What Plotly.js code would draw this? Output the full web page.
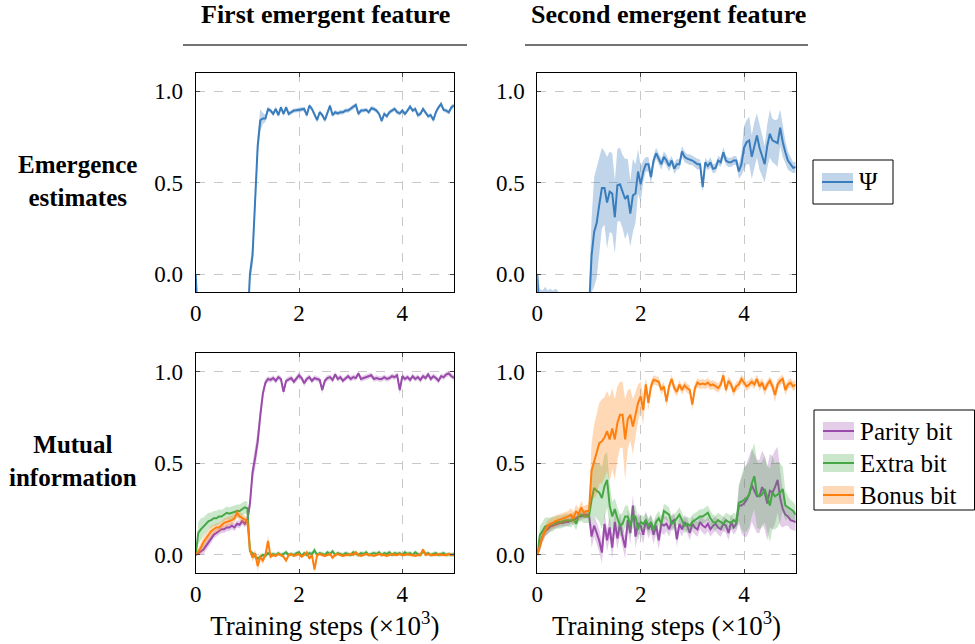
<!DOCTYPE html>
<html>
<head>
<meta charset="utf-8">
<script src="https://cdn.plot.ly/plotly-3.0.1.min.js"></script>
<style>html,body{margin:0;padding:0;background:#fff;}#chart{width:975px;height:644px;}
#chart svg text{font-family:'Liberation Serif',serif !important;}</style>
</head>
<body>
<div id="chart"></div>
<script>
// Training steps (x10^3)
const steps = [
 0,0.05,0.1,0.15,0.2,0.25,0.3,0.35,0.4,0.45,
 0.5,0.55,0.6,0.65,0.7,0.75,0.8,0.85,0.9,0.95,
 1,1.05,1.1,1.15,1.2,1.25,1.3,1.35,1.4,1.45,
 1.5,1.55,1.6,1.65,1.7,1.75,1.8,1.85,1.9,1.95,
 2,2.05,2.1,2.15,2.2,2.25,2.3,2.35,2.4,2.45,
 2.5,2.55,2.6,2.65,2.7,2.75,2.8,2.85,2.9,2.95,
 3,3.05,3.1,3.15,3.2,3.25,3.3,3.35,3.4,3.45,
 3.5,3.55,3.6,3.65,3.7,3.75,3.8,3.85,3.9,3.95,
 4,4.05,4.1,4.15,4.2,4.25,4.3,4.35,4.4,4.45,
 4.5,4.55,4.6,4.65,4.7,4.75,4.8,4.85,4.9,4.95,
 5];

const colTitles = ['First emergent feature', 'Second emergent feature'];
const rowTitles = ['Emergence<br>estimates', 'Mutual<br>information'];
const psiName = 'Ψ';
const miNames = ['Parity bit', 'Extra bit', 'Bonus bit'];
const xTicks = [0, 2, 4];
const xTickText = ['0', '2', '4'];
const yTicks = [0, 0.5, 1];
const yTickText = ['0.0', '0.5', '1.0'];
const xTitle = 'Training steps (×10<sup>3</sup>)';

// Emergence estimate Psi, first feature
const psi1 = [
 0,-0.6,-0.6,-0.6,-0.6,-0.6,-0.6,-0.6,-0.6,-0.6,
 -0.6,-0.6,-0.6,-0.6,-0.6,-0.6,-0.6,-0.6,-0.6,-0.6,
 -0.3,0.0,0.1,0.38,0.7,0.84,0.85,0.85,0.90,0.893,
 0.875,0.902,0.868,0.911,0.875,0.911,0.875,0.884,0.893,0.895,
 0.897,0.90,0.902,0.868,0.920,0.902,0.875,0.841,0.884,0.868,
 0.841,0.884,0.920,0.868,0.884,0.878,0.884,0.884,0.893,0.893,
 0.902,0.911,0.924,0.875,0.893,0.893,0.897,0.884,0.906,0.902,
 0.893,0.875,0.837,0.875,0.862,0.884,0.893,0.902,0.884,0.878,
 0.893,0.875,0.893,0.915,0.893,0.902,0.868,0.875,0.902,0.884,
 0.862,0.868,0.841,0.884,0.911,0.929,0.897,0.893,0.884,0.911,
 0.920];
const psi1Err = [
 0.02,0.3,0.3,0.3,0.3,0.3,0.3,0.3,0.3,0.3,
 0.3,0.3,0.3,0.3,0.3,0.3,0.3,0.3,0.3,0.3,
 0.1,0.05,0.06,0.06,0.06,0.06,0.03,0.02,0.015,0.012,
 0.012,0.015,0.012,0.012,0.015,0.012,0.012,0.012,0.012,0.012,
 0.012,0.012,0.012,0.015,0.012,0.012,0.012,0.015,0.012,0.012,
 0.015,0.012,0.012,0.012,0.012,0.012,0.012,0.012,0.012,0.012,
 0.012,0.012,0.012,0.015,0.012,0.012,0.012,0.012,0.012,0.012,
 0.012,0.012,0.015,0.012,0.012,0.012,0.012,0.012,0.012,0.012,
 0.012,0.012,0.012,0.012,0.012,0.012,0.015,0.012,0.012,0.012,
 0.012,0.012,0.015,0.012,0.012,0.015,0.012,0.012,0.012,0.015,
 0.012];

// Emergence estimate Psi, second feature
const psi2 = [
 0,-0.6,-0.6,-0.6,-0.6,-0.6,-0.6,-0.6,-0.6,-0.6,
 -0.6,-0.6,-0.6,-0.6,-0.6,-0.6,-0.6,-0.6,-0.6,-0.6,
 -0.2,0.1,0.23,0.28,0.38,0.47,0.47,0.39,0.45,0.44,
 0.31,0.485,0.49,0.45,0.41,0.43,0.33,0.43,0.44,0.56,
 0.49,0.56,0.60,0.60,0.53,0.62,0.66,0.63,0.60,0.64,
 0.62,0.59,0.62,0.575,0.60,0.60,0.67,0.64,0.63,0.625,
 0.62,0.61,0.60,0.60,0.475,0.61,0.59,0.61,0.575,0.58,
 0.62,0.61,0.665,0.62,0.61,0.61,0.62,0.62,0.56,0.60,
 0.69,0.72,0.73,0.64,0.70,0.757,0.69,0.65,0.60,0.70,
 0.766,0.73,0.72,0.715,0.80,0.72,0.665,0.62,0.60,0.58,
 0.585];
const psi2Err = [
 0.02,0.52,0.51,0.53,0.51,0.52,0.51,0.52,0.51,0.3,
 0.3,0.3,0.3,0.3,0.3,0.3,0.3,0.3,0.3,0.3,
 0.1,0.2,0.3,0.3,0.25,0.22,0.2,0.25,0.22,0.22,
 0.2,0.2,0.2,0.2,0.22,0.2,0.18,0.2,0.16,0.12,
 0.1,0.06,0.04,0.04,0.04,0.03,0.03,0.03,0.03,0.03,
 0.03,0.03,0.025,0.03,0.03,0.025,0.03,0.03,0.025,0.03,
 0.025,0.025,0.03,0.025,0.03,0.025,0.025,0.03,0.025,0.025,
 0.025,0.025,0.03,0.025,0.025,0.025,0.025,0.025,0.04,0.06,
 0.12,0.12,0.13,0.12,0.13,0.12,0.12,0.11,0.1,0.12,
 0.13,0.12,0.12,0.13,0.1,0.08,0.06,0.05,0.04,0.03,
 0.03];

// Mutual information, first feature
const parity1 = [
 0,0.01,0.02,0.03,0.05,0.07,0.09,0.11,0.12,0.13,
 0.14,0.14,0.15,0.15,0.16,0.15,0.17,0.165,0.185,0.17,
 0.19,0.28,0.45,0.53,0.62,0.76,0.88,0.94,0.96,0.955,
 0.965,0.95,0.97,0.96,0.89,0.95,0.96,0.965,0.945,0.96,
 0.98,0.965,0.937,0.96,0.97,0.95,0.965,0.96,0.955,0.90,
 0.95,0.965,0.97,0.955,0.985,0.96,0.97,0.95,0.965,0.975,
 0.96,0.97,0.965,0.99,0.96,0.965,0.97,0.975,0.98,0.96,
 0.965,0.96,0.96,0.97,0.96,0.965,0.975,0.97,0.98,0.90,
 0.975,0.96,0.97,0.955,0.975,0.96,0.97,0.955,0.975,0.965,
 0.985,0.96,0.975,0.965,0.95,0.975,0.97,0.985,0.99,0.975,
 0.965];
const parity1Err = [
 0,0.01,0.02,0.025,0.025,0.025,0.025,0.02,0.02,0.02,
 0.02,0.02,0.02,0.02,0.02,0.02,0.02,0.02,0.02,0.02,
 0.02,0.04,0.05,0.06,0.06,0.05,0.03,0.02,0.015,0.015,
 0.015,0.015,0.015,0.015,0.02,0.015,0.015,0.015,0.015,0.015,
 0.015,0.015,0.02,0.015,0.015,0.015,0.015,0.015,0.015,0.02,
 0.015,0.015,0.015,0.015,0.015,0.015,0.015,0.015,0.015,0.015,
 0.015,0.015,0.015,0.015,0.015,0.015,0.015,0.015,0.015,0.015,
 0.015,0.015,0.015,0.015,0.015,0.015,0.015,0.015,0.015,0.025,
 0.015,0.015,0.015,0.015,0.015,0.015,0.015,0.015,0.015,0.015,
 0.015,0.015,0.015,0.015,0.015,0.015,0.015,0.015,0.015,0.015,
 0.015];
const extra1 = [
 0,0.12,0.14,0.155,0.17,0.185,0.19,0.20,0.20,0.21,
 0.21,0.22,0.23,0.225,0.23,0.235,0.24,0.24,0.25,0.26,
 0.255,0.02,0.01,-0.01,-0.02,-0.01,0.0,-0.005,0.01,0.0,
 0.005,0.0,0.01,0.0,0.005,0.015,0.0,0.005,0.0,0.01,
 0.015,-0.005,0.01,0.0,0.01,0.005,0.025,0.0,0.01,0.005,
 0.0,0.015,0.005,0.02,0.0,0.01,0.005,0.0,0.01,0.005,
 0.0,0.015,0.005,0.0,0.01,0.005,0.015,0.0,0.005,0.01,
 0.005,0.015,0.0,0.01,0.005,0.015,0.0,0.01,0.005,0.01,
 0.0,0.015,0.005,0.01,0.0,0.015,0.005,0.0,0.02,0.005,
 0.01,0.0,0.005,0.01,0.0,0.005,0.01,0.0,0.005,0.0,
 0.005];
const extra1Err = [
 0,0.06,0.06,0.05,0.05,0.045,0.04,0.04,0.04,0.04,
 0.035,0.035,0.035,0.035,0.035,0.035,0.035,0.035,0.035,0.035,
 0.035,0.02,0.012,0.012,0.012,0.012,0.012,0.012,0.012,0.012,
 0.012,0.012,0.012,0.012,0.012,0.012,0.012,0.012,0.012,0.012,
 0.012,0.012,0.012,0.012,0.012,0.012,0.02,0.012,0.012,0.012,
 0.012,0.012,0.012,0.012,0.012,0.012,0.012,0.012,0.012,0.012,
 0.012,0.012,0.012,0.012,0.012,0.012,0.012,0.012,0.012,0.012,
 0.012,0.012,0.012,0.012,0.012,0.012,0.012,0.012,0.012,0.012,
 0.012,0.012,0.012,0.012,0.012,0.012,0.012,0.012,0.012,0.012,
 0.012,0.012,0.012,0.012,0.012,0.012,0.012,0.012,0.012,0.012,
 0.012];
const bonus1 = [
 0,0.02,0.04,0.07,0.09,0.11,0.13,0.14,0.15,0.15,
 0.16,0.175,0.18,0.185,0.19,0.20,0.23,0.21,0.20,0.19,
 0.185,0.03,-0.015,0.01,-0.06,-0.01,-0.03,0.0,0.076,-0.01,
 0.0,-0.005,0.005,0.0,-0.01,-0.03,0.0,0.005,-0.005,0.0,
 0.005,-0.01,0.0,0.015,-0.02,0.0,-0.08,0.0,0.005,0.0,
 -0.005,0.0,0.005,-0.015,0.0,0.005,0.0,-0.005,0.0,0.0,
 0.005,0.0,0.015,0.0,-0.005,0.0,0.005,0.0,0.0,-0.005,
 0.0,0.005,0.0,0.0,-0.005,0.0,0.005,0.0,0.0,0.005,
 0.0,0.0,0.005,0.0,0.0,-0.005,0.0,0.0,0.03,0.0,
 0.005,0.0,0.0,0.0,0.005,0.0,0.0,0.0,0.005,0.0,
 0.0];
const bonus1Err = [
 0,0.02,0.03,0.03,0.03,0.03,0.03,0.025,0.025,0.025,
 0.025,0.025,0.025,0.025,0.025,0.025,0.025,0.025,0.025,0.025,
 0.025,0.02,0.02,0.02,0.03,0.02,0.02,0.015,0.03,0.01,
 0.008,0.008,0.008,0.008,0.008,0.01,0.008,0.008,0.008,0.008,
 0.008,0.008,0.008,0.008,0.01,0.008,0.015,0.008,0.008,0.008,
 0.008,0.008,0.008,0.01,0.008,0.008,0.008,0.008,0.008,0.008,
 0.008,0.008,0.008,0.008,0.008,0.008,0.008,0.008,0.008,0.008,
 0.008,0.008,0.008,0.008,0.008,0.008,0.008,0.008,0.008,0.008,
 0.008,0.008,0.008,0.008,0.008,0.008,0.008,0.008,0.01,0.008,
 0.008,0.008,0.008,0.008,0.008,0.008,0.008,0.008,0.008,0.008,
 0.008];

// Mutual information, second feature
const parity2 = [
 0,0.05,0.10,0.13,0.14,0.155,0.16,0.165,0.17,0.175,
 0.175,0.18,0.18,0.19,0.19,0.20,0.21,0.21,0.22,0.22,
 0.22,0.10,0.16,0.12,0.076,0.013,0.17,0.08,0.15,0.04,
 0.18,0.09,0.17,0.10,0.04,0.19,0.12,0.27,0.10,0.17,
 0.16,0.11,0.19,0.14,0.17,0.11,0.16,0.08,0.17,0.16,
 0.17,0.14,0.18,0.19,0.085,0.17,0.14,0.18,0.16,0.12,
 0.17,0.15,0.14,0.18,0.16,0.15,0.17,0.14,0.16,0.17,
 0.15,0.14,0.17,0.16,0.12,0.18,0.15,0.17,0.27,0.27,
 0.28,0.30,0.33,0.38,0.35,0.32,0.32,0.37,0.34,0.28,
 0.35,0.34,0.37,0.41,0.31,0.25,0.22,0.21,0.19,0.185,
 0.18];
const parity2Err = [
 0,0.03,0.03,0.03,0.025,0.025,0.02,0.02,0.02,0.02,
 0.02,0.02,0.02,0.02,0.02,0.02,0.02,0.02,0.02,0.02,
 0.02,0.06,0.06,0.06,0.06,0.06,0.06,0.06,0.06,0.06,
 0.06,0.06,0.06,0.06,0.06,0.06,0.06,0.06,0.06,0.06,
 0.05,0.05,0.05,0.05,0.05,0.05,0.05,0.05,0.05,0.05,
 0.04,0.04,0.04,0.04,0.04,0.04,0.04,0.04,0.04,0.04,
 0.04,0.04,0.04,0.04,0.04,0.04,0.04,0.04,0.04,0.04,
 0.04,0.04,0.04,0.04,0.04,0.04,0.04,0.04,0.1,0.15,
 0.18,0.2,0.2,0.2,0.2,0.2,0.2,0.2,0.2,0.2,
 0.2,0.2,0.2,0.18,0.15,0.1,0.06,0.05,0.05,0.05,
 0.05];
const extra2 = [
 0,0.11,0.13,0.155,0.16,0.165,0.17,0.175,0.18,0.18,
 0.185,0.19,0.19,0.185,0.20,0.17,0.21,0.22,0.21,0.21,
 0.21,0.30,0.366,0.35,0.34,0.31,0.375,0.41,0.27,0.21,
 0.25,0.20,0.16,0.17,0.21,0.21,0.16,0.21,0.21,0.14,
 0.18,0.17,0.19,0.16,0.18,0.14,0.18,0.20,0.17,0.24,
 0.23,0.22,0.17,0.18,0.20,0.22,0.19,0.16,0.17,0.16,
 0.18,0.19,0.20,0.21,0.21,0.22,0.23,0.20,0.18,0.175,
 0.19,0.18,0.17,0.19,0.18,0.175,0.19,0.18,0.285,0.29,
 0.30,0.31,0.33,0.39,0.43,0.33,0.32,0.33,0.36,0.31,
 0.27,0.34,0.32,0.33,0.34,0.36,0.27,0.26,0.25,0.24,
 0.22];
const extra2Err = [
 0,0.05,0.05,0.05,0.045,0.04,0.04,0.035,0.035,0.035,
 0.035,0.035,0.035,0.035,0.035,0.035,0.035,0.035,0.035,0.035,
 0.035,0.14,0.15,0.15,0.16,0.17,0.17,0.15,0.12,0.08,
 0.06,0.06,0.06,0.06,0.06,0.06,0.06,0.06,0.06,0.06,
 0.04,0.04,0.04,0.04,0.04,0.04,0.04,0.04,0.04,0.04,
 0.04,0.04,0.04,0.04,0.04,0.04,0.04,0.04,0.04,0.04,
 0.04,0.04,0.04,0.04,0.04,0.04,0.04,0.04,0.04,0.04,
 0.04,0.04,0.04,0.04,0.04,0.04,0.04,0.04,0.1,0.15,
 0.18,0.18,0.18,0.18,0.18,0.18,0.18,0.18,0.18,0.18,
 0.2,0.2,0.18,0.18,0.16,0.12,0.08,0.06,0.05,0.05,
 0.05];
const bonus2 = [
 0,0.05,0.10,0.13,0.16,0.17,0.175,0.185,0.19,0.195,
 0.20,0.205,0.21,0.22,0.20,0.24,0.22,0.26,0.23,0.24,
 0.24,0.46,0.51,0.55,0.61,0.62,0.64,0.675,0.63,0.69,
 0.63,0.72,0.765,0.765,0.63,0.74,0.765,0.70,0.765,0.83,
 0.865,0.79,0.93,0.83,0.92,0.955,0.95,0.945,0.90,0.92,
 0.837,0.92,0.96,0.91,0.89,0.93,0.90,0.925,0.91,0.90,
 0.82,0.91,0.94,0.93,0.935,0.93,0.94,0.925,0.93,0.92,
 0.91,0.93,0.98,0.90,0.95,0.93,0.89,0.92,0.93,0.96,
 0.94,0.92,0.93,0.945,0.93,0.96,0.92,0.94,0.90,0.93,
 0.95,0.92,0.873,0.93,0.95,0.96,0.90,0.93,0.94,0.92,
 0.93];
const bonus2Err = [
 0,0.03,0.03,0.03,0.03,0.03,0.03,0.03,0.03,0.03,
 0.03,0.03,0.03,0.035,0.035,0.035,0.035,0.035,0.035,0.035,
 0.03,0.15,0.2,0.22,0.22,0.23,0.22,0.22,0.23,0.22,
 0.22,0.2,0.18,0.18,0.22,0.16,0.14,0.15,0.12,0.1,
 0.08,0.08,0.04,0.04,0.03,0.025,0.025,0.025,0.025,0.025,
 0.03,0.025,0.025,0.025,0.025,0.025,0.025,0.025,0.025,0.025,
 0.03,0.025,0.025,0.025,0.025,0.025,0.025,0.025,0.025,0.025,
 0.025,0.025,0.025,0.025,0.025,0.025,0.025,0.025,0.025,0.025,
 0.025,0.025,0.025,0.025,0.025,0.025,0.025,0.025,0.03,0.025,
 0.025,0.03,0.04,0.03,0.025,0.025,0.03,0.025,0.025,0.025,
 0.025];

const FONT = 'Liberation Serif';
const C = {
  psi:   {line: '#3a7dbd', fill: 'rgba(58,125,189,0.32)'},
  par:   {line: '#9a4aab', fill: 'rgba(154,74,171,0.28)'},
  ext:   {line: '#45a845', fill: 'rgba(69,168,69,0.28)'},
  bon:   {line: '#ff7f0e', fill: 'rgba(255,127,14,0.30)'}
};

function bandTrace(y, e, col, xa, ya) {
  const up = y.map((v, i) => v + e[i]);
  const lo = y.map((v, i) => v - e[i]);
  return {
    x: steps.concat(steps.slice().reverse()),
    y: up.concat(lo.slice().reverse()),
    xaxis: xa, yaxis: ya, type: 'scatter', mode: 'lines',
    fill: 'toself', fillcolor: col.fill, line: {width: 0, color: col.fill},
    hoverinfo: 'skip', showlegend: false
  };
}
function lineTrace(y, col, xa, ya, name) {
  return {x: steps, y: y, xaxis: xa, yaxis: ya, type: 'scatter', mode: 'lines',
    name: name, line: {color: col.line, width: 2}, showlegend: false};
}

const data = [
  bandTrace(psi1, psi1Err, C.psi, 'x', 'y'), lineTrace(psi1, C.psi, 'x', 'y', psiName),
  bandTrace(psi2, psi2Err, C.psi, 'x2', 'y2'), lineTrace(psi2, C.psi, 'x2', 'y2', psiName),
  bandTrace(parity1, parity1Err, C.par, 'x3', 'y3'), lineTrace(parity1, C.par, 'x3', 'y3', miNames[0]),
  bandTrace(extra1, extra1Err, C.ext, 'x3', 'y3'), lineTrace(extra1, C.ext, 'x3', 'y3', miNames[1]),
  bandTrace(bonus1, bonus1Err, C.bon, 'x3', 'y3'), lineTrace(bonus1, C.bon, 'x3', 'y3', miNames[2]),
  bandTrace(parity2, parity2Err, C.par, 'x4', 'y4'), lineTrace(parity2, C.par, 'x4', 'y4', miNames[0]),
  bandTrace(extra2, extra2Err, C.ext, 'x4', 'y4'), lineTrace(extra2, C.ext, 'x4', 'y4', miNames[1]),
  bandTrace(bonus2, bonus2Err, C.bon, 'x4', 'y4'), lineTrace(bonus2, C.bon, 'x4', 'y4', miNames[2])
];

const W = 975, H = 644;
const px = v => v / W;
const py = v => 1 - v / H;

function xax(dom, anchor, title) {
  const a = {domain: dom, anchor: anchor, range: [0, 5], tickvals: xTicks, ticktext: xTickText,
    showline: true, linecolor: '#000', linewidth: 1, mirror: 'ticks', ticks: 'inside', ticklen: 4,
    tickcolor: '#444', showgrid: true, gridcolor: '#c8c8c8', griddash: 'dash', gridwidth: 1,
    zeroline: false, tickfont: {family: FONT, size: 23, color: '#000'}, fixedrange: true};
  if (title) a.title = {text: title, font: {family: FONT, size: 27, color: '#000'}, standoff: 9};
  return a;
}
function yax(dom, anchor) {
  return {domain: dom, anchor: anchor, range: [-0.1, 1.1], tickvals: yTicks, ticktext: yTickText,
    showline: true, linecolor: '#000', linewidth: 1, mirror: 'ticks', ticks: 'inside', ticklen: 4,
    tickcolor: '#444', showgrid: true, gridcolor: '#c8c8c8', griddash: 'dash', gridwidth: 1,
    zeroline: false, tickfont: {family: FONT, size: 23, color: '#000'}, ticklabelstandoff: 7, fixedrange: true};
}

const colX = [[195.7, 454], [537.3, 795.7]];
const rowY = [[72.7, 292.3], [353.3, 573.3]];

const layout = {
  width: W, height: H, margin: {l: 0, r: 0, t: 0, b: 0},
  paper_bgcolor: '#fff', plot_bgcolor: '#fff', showlegend: false,
  font: {family: FONT, color: '#000'},
  xaxis:  xax([px(colX[0][0]), px(colX[0][1])], 'y'),
  xaxis2: xax([px(colX[1][0]), px(colX[1][1])], 'y2'),
  xaxis3: xax([px(colX[0][0]), px(colX[0][1])], 'y3', xTitle),
  xaxis4: xax([px(colX[1][0]), px(colX[1][1])], 'y4', xTitle),
  yaxis:  yax([py(rowY[0][1]), py(rowY[0][0])], 'x'),
  yaxis2: yax([py(rowY[0][1]), py(rowY[0][0])], 'x2'),
  yaxis3: yax([py(rowY[1][1]), py(rowY[1][0])], 'x3'),
  yaxis4: yax([py(rowY[1][1]), py(rowY[1][0])], 'x4'),
  shapes: [], annotations: []
};

// Column titles and rules
const colCenters = [325, 668];
const ruleX = [[183, 467], [525, 808]];
colTitles.forEach((t, i) => {
  layout.annotations.push({text: '<b>' + t + '</b>', xref: 'paper', yref: 'paper',
    x: px(colCenters[i]), y: py(15), xanchor: 'center', yanchor: 'middle', showarrow: false,
    font: {family: FONT, size: 26, color: '#000'}});
  layout.shapes.push({type: 'line', xref: 'paper', yref: 'paper', x0: px(ruleX[i][0]), x1: px(ruleX[i][1]),
    y0: py(45), y1: py(45), line: {color: '#444', width: 1.3}});
});
// Row titles
const rowCenters = [[77, 181], [73, 461]];
rowTitles.forEach((t, i) => {
  const parts = t.split('<br>').map(s => '<b>' + s + '</b>').join('<br>');
  layout.annotations.push({text: parts, xref: 'paper', yref: 'paper',
    x: px(rowCenters[i][0]), y: py(rowCenters[i][1]), xanchor: 'center', yanchor: 'middle',
    showarrow: false, align: 'center', font: {family: FONT, size: 25, color: '#000'}});
});

// Legends (drawn as shapes + text)
function legendBox(x0, y0, x1, y1) {
  layout.shapes.push({type: 'rect', xref: 'paper', yref: 'paper', x0: px(x0), x1: px(x1), y0: py(y0), y1: py(y1),
    line: {color: '#000', width: 1}, fillcolor: '#fff', layer: 'above'});
}
function legendItem(xs, yc, col, label) {
  layout.shapes.push({type: 'rect', xref: 'paper', yref: 'paper', x0: px(xs), x1: px(xs + 31),
    y0: py(yc - 9), y1: py(yc + 9), line: {width: 0}, fillcolor: col.fill, layer: 'above'});
  layout.shapes.push({type: 'line', xref: 'paper', yref: 'paper', x0: px(xs), x1: px(xs + 31),
    y0: py(yc), y1: py(yc), line: {color: col.line, width: 2}, layer: 'above'});
  layout.annotations.push({text: label, xref: 'paper', yref: 'paper', x: px(xs + 35), y: py(yc),
    xanchor: 'left', yanchor: 'middle', showarrow: false, font: {family: FONT, size: 25, color: '#000'}});
}
legendBox(813, 160, 893, 204);
legendItem(822, 182, C.psi, psiName);
legendBox(814, 410, 974.5, 510);
const miCols = [C.par, C.ext, C.bon];
const miY = [431, 463, 495];
miNames.forEach((n, i) => legendItem(823, miY[i], miCols[i], n));

Plotly.newPlot('chart', data, layout, {staticPlot: true, displayModeBar: false});
</script>
</body>
</html>
